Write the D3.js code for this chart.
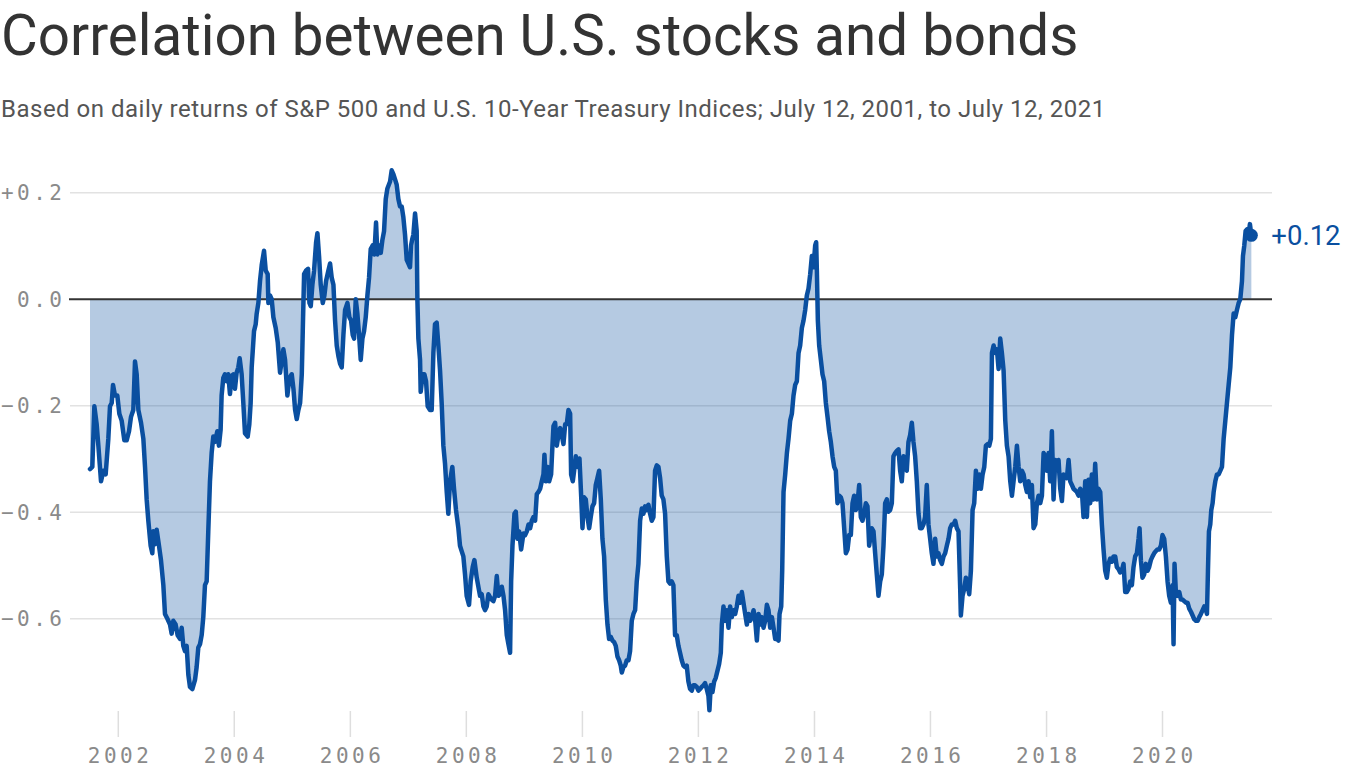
<!DOCTYPE html>
<html><head><meta charset="utf-8">
<script src="https://cdn.jsdelivr.net/npm/d3@7"></script>
<style>
html,body{margin:0;padding:0;background:#fff;}
svg{display:block;}
</style></head><body>
<svg id="chart" width="1366" height="768"></svg>
<script>
const titleText = "Correlation between U.S. stocks and bonds";
const subtitleText = "Based on daily returns of S&P 500 and U.S. 10-Year Treasury Indices; July 12, 2001, to July 12, 2021";
const yTickValues = [0.2, 0, -0.2, -0.4, -0.6];
const yTickLabels = ["+0.2", "0.0", "\u22120.2", "\u22120.4", "\u22120.6"];
const xTickYears = [2002, 2004, 2006, 2008, 2010, 2012, 2014, 2016, 2018, 2020];
const endLabel = "+0.12";
// [decimal year, 1-year rolling correlation]
const corrSeries = [
[2001.512,-0.319],[2001.552,-0.315],[2001.587,-0.201],[2001.627,-0.235],[2001.656,-0.275],[2001.702,-0.342],[2001.742,-0.322],[2001.782,-0.329],[2001.828,-0.262],[2001.857,-0.201],[2001.886,-0.195],[2001.909,-0.161],[2001.943,-0.181],[2001.983,-0.181],[2002.018,-0.215],[2002.058,-0.228],[2002.104,-0.265],[2002.144,-0.265],[2002.185,-0.248],[2002.219,-0.221],[2002.259,-0.208],[2002.288,-0.117],[2002.317,-0.141],[2002.346,-0.208],[2002.392,-0.232],[2002.432,-0.262],[2002.461,-0.315],[2002.489,-0.376],[2002.518,-0.416],[2002.558,-0.463],[2002.587,-0.477],[2002.604,-0.436],[2002.633,-0.460],[2002.662,-0.433],[2002.702,-0.463],[2002.736,-0.490],[2002.777,-0.537],[2002.805,-0.591],[2002.851,-0.601],[2002.892,-0.611],[2002.920,-0.628],[2002.949,-0.604],[2002.989,-0.611],[2003.024,-0.631],[2003.064,-0.638],[2003.093,-0.617],[2003.121,-0.651],[2003.150,-0.661],[2003.179,-0.651],[2003.208,-0.705],[2003.236,-0.728],[2003.277,-0.732],[2003.323,-0.715],[2003.351,-0.691],[2003.380,-0.654],[2003.409,-0.648],[2003.438,-0.631],[2003.466,-0.597],[2003.495,-0.537],[2003.524,-0.530],[2003.552,-0.436],[2003.581,-0.342],[2003.610,-0.289],[2003.639,-0.258],[2003.667,-0.268],[2003.708,-0.248],[2003.736,-0.275],[2003.765,-0.245],[2003.782,-0.181],[2003.811,-0.148],[2003.840,-0.141],[2003.869,-0.154],[2003.897,-0.141],[2003.926,-0.178],[2003.955,-0.144],[2003.984,-0.141],[2004.012,-0.168],[2004.041,-0.138],[2004.070,-0.128],[2004.093,-0.111],[2004.127,-0.141],[2004.156,-0.195],[2004.185,-0.252],[2004.231,-0.258],[2004.259,-0.235],[2004.282,-0.195],[2004.300,-0.128],[2004.340,-0.060],[2004.369,-0.047],[2004.386,-0.027],[2004.415,-0.007],[2004.443,0.034],[2004.472,0.064],[2004.512,0.091],[2004.541,0.054],[2004.575,0.047],[2004.587,-0.007],[2004.615,0.007],[2004.644,0.000],[2004.673,-0.034],[2004.713,-0.054],[2004.748,-0.081],[2004.788,-0.138],[2004.817,-0.114],
[2004.845,-0.094],[2004.874,-0.114],[2004.914,-0.181],[2004.949,-0.148],[2004.989,-0.141],[2005.018,-0.168],[2005.047,-0.208],[2005.075,-0.225],[2005.104,-0.208],[2005.133,-0.195],[2005.162,-0.141],[2005.179,-0.060],[2005.202,0.047],[2005.236,0.054],[2005.271,0.057],[2005.294,-0.007],[2005.317,-0.013],[2005.345,0.027],[2005.374,0.054],[2005.409,0.107],[2005.432,0.124],[2005.460,0.081],[2005.489,0.027],[2005.524,-0.007],[2005.552,0.007],[2005.581,0.034],[2005.621,0.054],[2005.650,0.067],[2005.679,0.040],[2005.708,0.027],[2005.736,-0.040],[2005.765,-0.087],[2005.794,-0.107],[2005.822,-0.121],[2005.851,-0.128],[2005.880,-0.067],[2005.909,-0.020],[2005.949,-0.007],[2005.983,-0.034],[2006.012,-0.040],[2006.041,-0.067],[2006.064,-0.074],[2006.093,0.000],[2006.121,-0.027],[2006.150,-0.067],[2006.179,-0.114],[2006.208,-0.074],[2006.236,-0.060],[2006.265,-0.034],[2006.294,0.007],[2006.322,0.040],[2006.351,0.094],[2006.386,0.101],[2006.414,0.084],[2006.443,0.144],[2006.466,0.084],[2006.495,0.101],[2006.524,0.087],[2006.552,0.111],[2006.581,0.128],[2006.610,0.188],[2006.639,0.208],[2006.685,0.221],[2006.713,0.242],[2006.742,0.235],[2006.771,0.225],[2006.799,0.215],[2006.828,0.188],[2006.857,0.174],[2006.886,0.174],[2006.914,0.154],[2006.943,0.121],[2006.972,0.074],[2007.001,0.067],[2007.029,0.060],[2007.047,0.101],[2007.070,0.114],[2007.087,0.121],[2007.116,0.161],[2007.144,0.128],[2007.156,0.000],[2007.173,-0.074],[2007.202,-0.114],[2007.213,-0.174],[2007.248,-0.141],[2007.277,-0.141],[2007.305,-0.154],[2007.334,-0.201],[2007.374,-0.208],[2007.403,-0.208],[2007.432,-0.101],[2007.460,-0.047],[2007.489,-0.044],[2007.518,-0.087],[2007.547,-0.134],[2007.575,-0.195],[2007.604,-0.275],[2007.633,-0.309],[2007.662,-0.362],[2007.690,-0.403],[2007.719,-0.342],[2007.759,-0.315],[2007.788,-0.356],[2007.822,-0.396],[2007.863,-0.430],[2007.891,-0.463],[2007.920,-0.473],[2007.949,-0.483],[2007.978,-0.517],[2008.006,-0.557],[2008.047,-0.574],[2008.075,-0.530],[2008.110,-0.503],[2008.139,-0.490],[2008.179,-0.523],
[2008.236,-0.557],[2008.265,-0.554],[2008.294,-0.577],[2008.322,-0.584],[2008.351,-0.577],[2008.380,-0.554],[2008.409,-0.560],[2008.437,-0.564],[2008.466,-0.567],[2008.495,-0.557],[2008.524,-0.520],[2008.552,-0.557],[2008.581,-0.554],[2008.610,-0.540],[2008.639,-0.557],[2008.667,-0.584],[2008.696,-0.631],[2008.725,-0.648],[2008.753,-0.664],[2008.771,-0.530],[2008.794,-0.463],[2008.828,-0.403],[2008.851,-0.399],[2008.880,-0.450],[2008.909,-0.436],[2008.943,-0.470],[2008.983,-0.440],[2009.012,-0.443],[2009.041,-0.436],[2009.070,-0.423],[2009.098,-0.430],[2009.127,-0.416],[2009.156,-0.409],[2009.184,-0.416],[2009.213,-0.366],[2009.242,-0.362],[2009.271,-0.356],[2009.299,-0.342],[2009.328,-0.329],[2009.345,-0.292],[2009.368,-0.342],[2009.403,-0.315],[2009.426,-0.342],[2009.460,-0.329],[2009.483,-0.275],[2009.501,-0.238],[2009.529,-0.232],[2009.558,-0.275],[2009.587,-0.255],[2009.616,-0.242],[2009.644,-0.255],[2009.673,-0.272],[2009.702,-0.235],[2009.730,-0.235],[2009.759,-0.208],[2009.788,-0.215],[2009.805,-0.329],[2009.834,-0.342],[2009.857,-0.322],[2009.886,-0.295],[2009.920,-0.315],[2009.949,-0.299],[2009.978,-0.369],[2010.001,-0.430],[2010.029,-0.372],[2010.058,-0.376],[2010.087,-0.409],[2010.116,-0.430],[2010.144,-0.409],[2010.173,-0.389],[2010.202,-0.383],[2010.230,-0.349],[2010.259,-0.336],[2010.288,-0.322],[2010.317,-0.376],[2010.345,-0.450],[2010.374,-0.483],[2010.403,-0.564],[2010.432,-0.611],[2010.460,-0.638],[2010.489,-0.634],[2010.518,-0.641],[2010.547,-0.644],[2010.575,-0.651],[2010.604,-0.671],[2010.633,-0.678],[2010.661,-0.688],[2010.679,-0.701],[2010.707,-0.691],[2010.736,-0.688],[2010.765,-0.678],[2010.794,-0.678],[2010.822,-0.661],[2010.851,-0.604],[2010.880,-0.591],[2010.909,-0.584],[2010.937,-0.530],[2010.966,-0.497],[2010.995,-0.416],[2011.024,-0.393],[2011.052,-0.403],[2011.081,-0.389],[2011.110,-0.396],[2011.138,-0.386],[2011.167,-0.403],[2011.196,-0.416],[2011.225,-0.409],[2011.253,-0.322],[2011.282,-0.312],[2011.311,-0.315],[2011.340,-0.336],[2011.368,-0.369],[2011.397,-0.376],[2011.426,-0.403],[2011.455,-0.483],[2011.483,-0.530],[2011.512,-0.534],[2011.541,-0.530],
[2011.569,-0.537],[2011.598,-0.631],[2011.627,-0.631],[2011.656,-0.651],[2011.684,-0.664],[2011.713,-0.678],[2011.742,-0.688],[2011.771,-0.691],[2011.799,-0.688],[2011.828,-0.718],[2011.857,-0.732],[2011.886,-0.735],[2011.914,-0.725],[2011.943,-0.725],[2011.972,-0.728],[2012.001,-0.735],[2012.029,-0.732],[2012.058,-0.728],[2012.087,-0.725],[2012.115,-0.721],[2012.144,-0.732],[2012.173,-0.745],[2012.190,-0.772],[2012.213,-0.725],[2012.242,-0.738],[2012.271,-0.718],[2012.299,-0.711],[2012.328,-0.698],[2012.357,-0.685],[2012.386,-0.664],[2012.403,-0.611],[2012.432,-0.577],[2012.460,-0.604],[2012.489,-0.584],[2012.518,-0.617],[2012.546,-0.577],[2012.575,-0.597],[2012.604,-0.584],[2012.633,-0.591],[2012.661,-0.577],[2012.690,-0.557],[2012.719,-0.570],[2012.748,-0.550],[2012.776,-0.570],[2012.805,-0.591],[2012.834,-0.611],[2012.863,-0.591],[2012.891,-0.604],[2012.920,-0.597],[2012.949,-0.584],[2012.978,-0.604],[2013.006,-0.641],[2013.035,-0.591],[2013.064,-0.611],[2013.092,-0.597],[2013.121,-0.617],[2013.150,-0.604],[2013.179,-0.574],[2013.207,-0.584],[2013.236,-0.617],[2013.265,-0.597],[2013.294,-0.617],[2013.322,-0.638],[2013.351,-0.638],[2013.380,-0.641],[2013.397,-0.591],[2013.426,-0.577],[2013.443,-0.510],[2013.466,-0.362],[2013.495,-0.329],[2013.524,-0.289],[2013.552,-0.262],[2013.581,-0.228],[2013.610,-0.215],[2013.638,-0.181],[2013.667,-0.161],[2013.696,-0.154],[2013.725,-0.101],[2013.753,-0.087],[2013.782,-0.054],[2013.811,-0.040],[2013.840,-0.020],[2013.868,0.007],[2013.897,0.020],[2013.926,0.047],[2013.955,0.081],[2013.983,0.060],[2014.012,0.101],[2014.029,0.107],[2014.041,0.054],[2014.058,-0.040],[2014.081,-0.087],[2014.110,-0.114],[2014.138,-0.141],[2014.167,-0.154],[2014.196,-0.195],[2014.225,-0.221],[2014.253,-0.248],[2014.282,-0.268],[2014.311,-0.295],[2014.340,-0.315],[2014.368,-0.322],[2014.397,-0.383],[2014.426,-0.369],[2014.455,-0.372],[2014.483,-0.383],[2014.512,-0.430],[2014.541,-0.477],[2014.570,-0.470],[2014.598,-0.443],[2014.627,-0.443],[2014.656,-0.383],[2014.684,-0.369],[2014.713,-0.396],[2014.742,-0.383],[2014.771,-0.349],[2014.799,-0.409],[2014.828,-0.416],[2014.857,-0.403],[2014.886,-0.383],[2014.914,-0.389],[2014.943,-0.463],
[2014.989,-0.430],[2015.018,-0.436],[2015.046,-0.477],[2015.075,-0.517],[2015.104,-0.557],[2015.133,-0.530],[2015.161,-0.517],[2015.190,-0.463],[2015.219,-0.383],[2015.248,-0.376],[2015.276,-0.399],[2015.305,-0.396],[2015.334,-0.383],[2015.362,-0.295],[2015.391,-0.289],[2015.420,-0.285],[2015.449,-0.282],[2015.477,-0.322],[2015.506,-0.342],[2015.535,-0.295],[2015.564,-0.315],[2015.592,-0.322],[2015.621,-0.268],[2015.650,-0.255],[2015.679,-0.232],[2015.707,-0.268],[2015.736,-0.295],[2015.765,-0.342],[2015.794,-0.403],[2015.822,-0.430],[2015.851,-0.430],[2015.880,-0.423],[2015.908,-0.409],[2015.937,-0.349],[2015.966,-0.423],[2015.995,-0.450],[2016.023,-0.477],[2016.052,-0.497],[2016.081,-0.450],[2016.110,-0.483],[2016.138,-0.477],[2016.167,-0.490],[2016.196,-0.497],[2016.225,-0.483],[2016.253,-0.477],[2016.282,-0.463],[2016.311,-0.450],[2016.339,-0.430],[2016.368,-0.423],[2016.397,-0.423],[2016.426,-0.416],[2016.454,-0.430],[2016.483,-0.436],[2016.512,-0.544],[2016.523,-0.594],[2016.552,-0.557],[2016.581,-0.544],[2016.610,-0.523],[2016.638,-0.537],[2016.667,-0.554],[2016.696,-0.510],[2016.725,-0.396],[2016.753,-0.383],[2016.782,-0.322],[2016.811,-0.356],[2016.839,-0.329],[2016.868,-0.356],[2016.897,-0.329],[2016.926,-0.315],[2016.954,-0.275],[2016.983,-0.272],[2017.012,-0.275],[2017.040,-0.262],[2017.058,-0.101],[2017.087,-0.087],[2017.115,-0.101],[2017.144,-0.094],[2017.173,-0.131],[2017.201,-0.074],[2017.230,-0.101],[2017.259,-0.134],[2017.288,-0.228],[2017.316,-0.275],[2017.345,-0.295],[2017.374,-0.342],[2017.403,-0.369],[2017.431,-0.342],[2017.460,-0.315],[2017.489,-0.275],[2017.518,-0.315],[2017.546,-0.342],[2017.575,-0.322],[2017.604,-0.329],[2017.633,-0.349],[2017.661,-0.362],[2017.690,-0.342],[2017.719,-0.372],[2017.747,-0.349],[2017.776,-0.430],[2017.805,-0.423],[2017.834,-0.383],[2017.862,-0.369],[2017.891,-0.383],[2017.920,-0.369],[2017.949,-0.289],[2017.977,-0.295],[2018.006,-0.322],[2018.035,-0.289],[2018.063,-0.342],[2018.092,-0.248],[2018.121,-0.376],[2018.150,-0.302],[2018.178,-0.315],[2018.207,-0.302],[2018.236,-0.356],[2018.265,-0.379],[2018.293,-0.329],
[2018.351,-0.336],[2018.380,-0.302],[2018.408,-0.342],[2018.437,-0.349],[2018.466,-0.356],[2018.495,-0.359],[2018.523,-0.362],[2018.552,-0.369],[2018.581,-0.356],[2018.610,-0.362],[2018.638,-0.409],[2018.667,-0.342],[2018.696,-0.409],[2018.724,-0.339],[2018.753,-0.383],[2018.782,-0.329],[2018.811,-0.376],[2018.839,-0.309],[2018.868,-0.376],[2018.897,-0.356],[2018.926,-0.362],[2018.954,-0.423],[2018.983,-0.470],[2019.012,-0.510],[2019.040,-0.523],[2019.069,-0.497],[2019.098,-0.487],[2019.127,-0.493],[2019.155,-0.483],[2019.184,-0.483],[2019.213,-0.503],[2019.242,-0.507],[2019.270,-0.513],[2019.299,-0.510],[2019.328,-0.497],[2019.357,-0.550],[2019.385,-0.550],[2019.414,-0.544],[2019.443,-0.530],[2019.472,-0.537],[2019.500,-0.503],[2019.529,-0.483],[2019.558,-0.477],[2019.587,-0.450],[2019.604,-0.430],[2019.627,-0.490],[2019.655,-0.523],[2019.684,-0.517],[2019.713,-0.497],[2019.742,-0.510],[2019.770,-0.503],[2019.799,-0.490],[2019.828,-0.483],[2019.857,-0.477],[2019.885,-0.473],[2019.914,-0.470],[2019.943,-0.470],[2019.972,-0.463],[2020.000,-0.443],[2020.029,-0.450],[2020.058,-0.483],[2020.087,-0.530],[2020.115,-0.557],[2020.144,-0.570],[2020.173,-0.537],[2020.190,-0.648],[2020.207,-0.497],[2020.230,-0.550],[2020.259,-0.557],[2020.288,-0.550],[2020.316,-0.564],[2020.345,-0.564],[2020.374,-0.567],[2020.403,-0.570],[2020.431,-0.570],[2020.460,-0.581],[2020.489,-0.587],[2020.518,-0.594],[2020.546,-0.601],[2020.575,-0.604],[2020.604,-0.604],[2020.633,-0.597],[2020.661,-0.591],[2020.690,-0.584],[2020.719,-0.577],[2020.747,-0.584],[2020.765,-0.591],[2020.782,-0.510],[2020.799,-0.436],[2020.822,-0.423],[2020.839,-0.396],[2020.862,-0.383],[2020.880,-0.362],[2020.908,-0.342],[2020.937,-0.329],[2020.966,-0.329],[2020.995,-0.322],[2021.023,-0.315],[2021.052,-0.262],[2021.081,-0.228],[2021.109,-0.195],[2021.138,-0.161],[2021.167,-0.128],[2021.196,-0.067],[2021.224,-0.027],[2021.253,-0.034],[2021.282,-0.020],[2021.311,-0.007],[2021.339,0.000],[2021.368,0.034],[2021.385,0.081],[2021.408,0.101],[2021.431,0.128],[2021.454,0.131],[2021.483,0.121],[2021.505,0.141],[2021.530,0.120]
];

function toDate(yd){
  const yr = Math.floor(yd);
  const s = new Date(yr,0,1), e = new Date(yr+1,0,1);
  return new Date(+s + (yd-yr)*(e-s));
}
const data = corrSeries.map(d => ({date: toDate(d[0]), value: d[1]}));

const BLUE = "#0a4fa0";
const MONO = "'DejaVu Sans Mono', monospace";
const SANS = "Roboto, 'Noto Sans', sans-serif";

const svg = d3.select("#chart");
const x = d3.scaleTime().domain([new Date(2002,0,1), new Date(2020,0,1)]).range([118.3, 1162.5]);
const y = d3.scaleLinear().domain([-0.6, 0.2]).range([618.7, 192.7]);

// title & subtitle
svg.append("text").attr("x", 1).attr("y", 55)
  .attr("font-family", SANS).attr("font-size", 56.5).attr("fill", "#333")
  .text(titleText);
svg.append("text").attr("x", 1).attr("y", 117)
  .attr("font-family", SANS).attr("font-size", 24).attr("fill", "#555")
  .attr("letter-spacing", 0.5)
  .text(subtitleText);

// gridlines
svg.append("g").selectAll("line").data(yTickValues.filter(v => v !== 0)).join("line")
  .attr("x1", 70).attr("x2", 1272)
  .attr("y1", d => y(d)).attr("y2", d => y(d))
  .attr("stroke", "#e2e2e2").attr("stroke-width", 1.6);

// y labels
const LS = 3.5;
svg.append("g").selectAll("text").data(yTickValues).join("text")
  .attr("x", 62 + LS).attr("y", d => y(d)).attr("dy", "0.36em")
  .attr("text-anchor", "end")
  .attr("font-family", MONO).attr("font-size", 21).attr("letter-spacing", LS)
  .attr("fill", "#8a8a8a")
  .text((d, i) => yTickLabels[i]);

// x axis ticks & labels
const xg = svg.append("g");
xg.selectAll("line").data(xTickYears).join("line")
  .attr("x1", d => x(new Date(d,0,1))).attr("x2", d => x(new Date(d,0,1)))
  .attr("y1", 711).attr("y2", 737)
  .attr("stroke", "#dedede").attr("stroke-width", 1.5);
xg.selectAll("text").data(xTickYears).join("text")
  .attr("x", d => x(new Date(d,0,1)) + LS/2).attr("y", 763)
  .attr("text-anchor", "middle")
  .attr("font-family", MONO).attr("font-size", 21).attr("letter-spacing", LS)
  .attr("fill", "#8a8a8a")
  .text(d => String(d));

// area
const area = d3.area().x(d => x(d.date)).y0(y(0)).y1(d => y(d.value));
svg.append("path").datum(data).attr("d", area)
  .attr("fill", BLUE).attr("fill-opacity", 0.3);

// zero line
svg.append("line").attr("x1", 69).attr("x2", 1272).attr("y1", y(0)).attr("y2", y(0))
  .attr("stroke", "#333").attr("stroke-width", 2);

// line
const line = d3.line().x(d => x(d.date)).y(d => y(d.value));
svg.append("path").datum(data).attr("d", line)
  .attr("fill", "none").attr("stroke", BLUE).attr("stroke-width", 4.5)
  .attr("stroke-linejoin", "round").attr("stroke-linecap", "round");

// end dot & label
const last = data[data.length - 1];
svg.append("circle").attr("cx", x(last.date)).attr("cy", y(last.value)).attr("r", 6.5).attr("fill", BLUE);
svg.append("text").attr("x", x(last.date) + 20).attr("y", y(last.value)).attr("dy", "0.36em")
  .attr("font-family", SANS).attr("font-size", 27.5).attr("fill", BLUE)
  .text(endLabel);
</script>
</body></html>
